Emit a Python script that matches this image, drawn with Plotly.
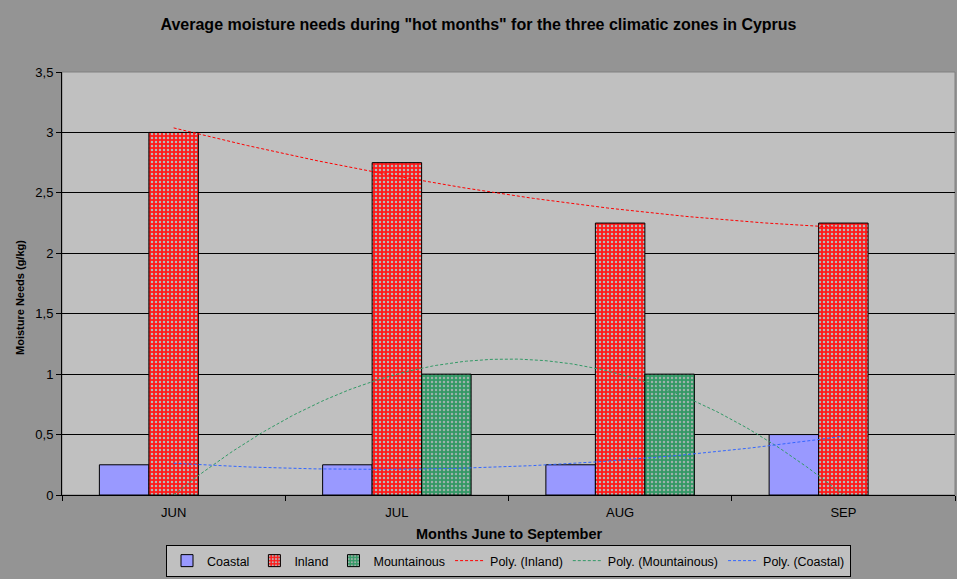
import numpy as np
import plotly.graph_objects as go

months = ["JUN", "JUL", "AUG", "SEP"]
coastal = [0.25, 0.25, 0.25, 0.5]
inland = [3.0, 2.75, 2.25, 2.25]
mountainous = [0, 1.0, 1.0, 0]
y_ticks = [0, 0.5, 1, 1.5, 2, 2.5, 3, 3.5]

FONT = "Liberation Sans, Arial, sans-serif"
xpos = list(range(len(months)))


def bar_vals(vals):
    return [v if v else None for v in vals]


fig = go.Figure()
fig.add_trace(go.Bar(x=xpos, y=bar_vals(coastal), name="Coastal",
                     marker=dict(color="#9999ff", line=dict(color="black", width=1))))
fig.add_trace(go.Bar(x=xpos, y=bar_vals(inland), name="Inland",
                     marker=dict(color="#ff1a1a", line=dict(color="black", width=1),
                                 pattern=dict(shape=".", bgcolor="#ff1a1a", fgcolor="#b8b8b8",
                                              size=4, solidity=0.3, fillmode="replace"))))
fig.add_trace(go.Bar(x=xpos, y=bar_vals(mountainous), name="Mountainous",
                     marker=dict(color="#339966", line=dict(color="black", width=1),
                                 pattern=dict(shape=".", bgcolor="#339966", fgcolor="#a0b0a8",
                                              size=4, solidity=0.3, fillmode="replace"))))

xs = np.linspace(0, len(months) - 1, 200)
for name, vals, col in [("Poly. (Inland)", inland, "#ff0000"),
                        ("Poly. (Mountainous)", mountainous, "#339966"),
                        ("Poly. (Coastal)", coastal, "#3366ff")]:
    coef = np.polyfit(xpos, vals, 2)
    fig.add_trace(go.Scatter(x=xs, y=np.polyval(coef, xs), mode="lines", name=name,
                             line=dict(color=col, width=1, dash="3px,2px")))

fig.update_layout(
    width=957, height=579,
    margin=dict(l=62, r=2, t=72, b=84, autoexpand=False),
    paper_bgcolor="#949494", plot_bgcolor="#c0c0c0",
    separators=",.",
    font=dict(family=FONT, size=12, color="black"),
    barmode="group", bargap=0.335, bargroupgap=0,
    title=dict(text="<b>Average moisture needs during \"hot months\" for the three climatic zones in Cyprus</b>",
               x=0.5, xanchor="center", xref="container", y=1 - 24 / 579, yanchor="middle",
               font=dict(size=16, family=FONT)),
    legend=dict(orientation="h", x=0.5, xanchor="center", xref="paper",
                y=2 / 579, yanchor="bottom", yref="container",
                bgcolor="#c0c0c0", bordercolor="black", borderwidth=1,
                font=dict(size=12.5, family=FONT), itemwidth=30, tracegroupgap=0),
    showlegend=True,
)
fig.update_xaxes(
    range=[-0.5, len(months) - 0.5], tickvals=xpos, ticktext=months, ticks="",
    showgrid=False, zeroline=False, showline=True, linecolor="black", linewidth=1,
    tickfont=dict(size=13), ticklabelstandoff=5,
    minor=dict(tickvals=[-0.5, 0.5, 1.5, 2.5, 3.5], ticks="outside", ticklen=5,
               tickcolor="black", showgrid=False),
)
fig.update_yaxes(
    range=[0, 3.5], tickvals=y_ticks, ticks="outside", ticklen=5, tickcolor="black",
    showgrid=True, gridcolor="black", gridwidth=1, zeroline=False,
    showline=True, linecolor="black", linewidth=1, tickfont=dict(size=13),
)
fig.add_annotation(text="<b>Months June to September</b>", xref="paper", yref="paper",
                   x=0.5, y=-(534 - 495) / 423, xanchor="center", yanchor="middle",
                   showarrow=False, font=dict(size=14.5, family=FONT))
fig.add_annotation(text="<b>Moisture Needs (g/kg)</b>", xref="paper", yref="paper",
                   x=(20 - 62) / 893, y=(495 - 298) / 423, xanchor="center", yanchor="middle",
                   textangle=-90, showarrow=False, font=dict(size=11, family=FONT))
fig.add_shape(type="rect", xref="paper", yref="paper", x0=0, x1=1, y0=0, y1=1,
              line=dict(color="#808080", width=1), layer="below")
fig.write_html("out.html")
